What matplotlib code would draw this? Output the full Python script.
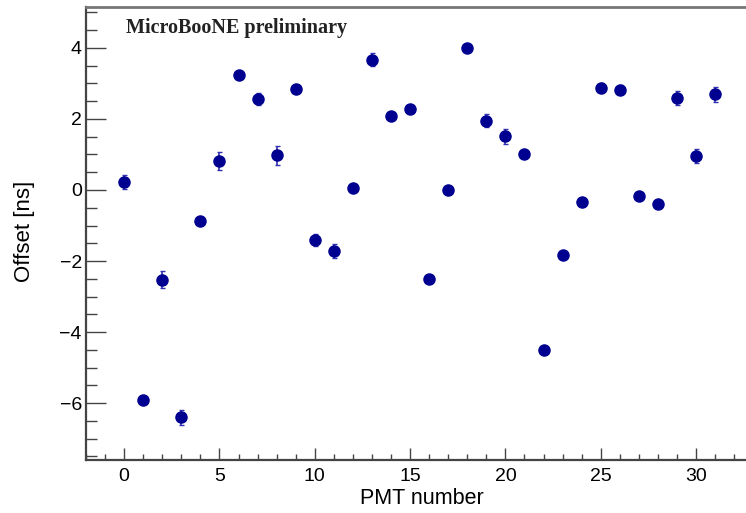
import matplotlib
matplotlib.use("Agg")
import matplotlib.pyplot as plt
from matplotlib.ticker import MultipleLocator
import numpy as np

# PMT timing offsets
pmt = list(range(32))
offset = [0.23, -5.92, -2.52, -6.40, -0.87, 0.81, 3.25, 2.56, 0.98, 2.85,
          -1.41, -1.72, 0.06, 3.67, 2.09, 2.29, -2.51, 0.00, 4.00, 1.95,
          1.51, 1.00, -4.51, -1.84, -0.34, 2.88, 2.82, -0.17, -0.40, 2.58,
          0.95, 2.69]
err = [0.19, 0.08, 0.23, 0.22, 0.10, 0.25, 0.10, 0.16, 0.27, 0.10,
       0.16, 0.19, 0.08, 0.19, 0.10, 0.10, 0.10, 0.08, 0.10, 0.19,
       0.21, 0.10, 0.08, 0.08, 0.08, 0.12, 0.13, 0.08, 0.08, 0.20,
       0.20, 0.22]

plt.rcParams['font.family'] = ['Liberation Sans', 'DejaVu Sans']

fig = plt.figure(figsize=(7.46, 5.13), dpi=100)
ax = fig.add_axes([86/746, 1-460/513, 1-86/746, (460-7)/513])

ax.errorbar(pmt, offset, yerr=err, fmt='o', color='#000090', ecolor='#3030b0',
            markersize=8, elinewidth=1.2, capsize=1.8, capthick=1.0)

ax.set_xlim(-2, 32.62)
ax.set_ylim(-7.6, 5.15)

ax.xaxis.set_major_locator(MultipleLocator(5))
ax.xaxis.set_minor_locator(MultipleLocator(1))
ax.yaxis.set_major_locator(MultipleLocator(2))
ax.yaxis.set_minor_locator(MultipleLocator(0.5))

ax.spines['right'].set_visible(False)
for s in ['left', 'bottom']:
    ax.spines[s].set_color('#444444')
    ax.spines[s].set_linewidth(1.6)
ax.spines['top'].set_color('#777777')
ax.spines['top'].set_linewidth(2.0)

ax.tick_params(axis='both', which='both', direction='in', colors='#444444',
               labelcolor='black', labelsize=14, width=1.0, top=False, right=False)
ax.tick_params(axis='y', which='major', length=14.5, pad=3)
ax.tick_params(axis='y', which='minor', length=8)
ax.tick_params(axis='x', which='major', length=8.6, pad=6)
ax.tick_params(axis='x', which='minor', length=4.3)

ax.set_xlabel('PMT number', fontsize=15.5)
ax.set_ylabel('Offset [ns]', fontsize=16)
ax.xaxis.set_label_coords(0.509, -0.062)
ax.yaxis.set_label_coords(-0.077, 0.505)

ax.text(126, 513 - 33, 'MicroBooNE preliminary', transform=None, fontsize=14.5,
        fontweight='bold', family='Liberation Serif', color='#222222', va='baseline')

fig.savefig('out.png', dpi=100)
